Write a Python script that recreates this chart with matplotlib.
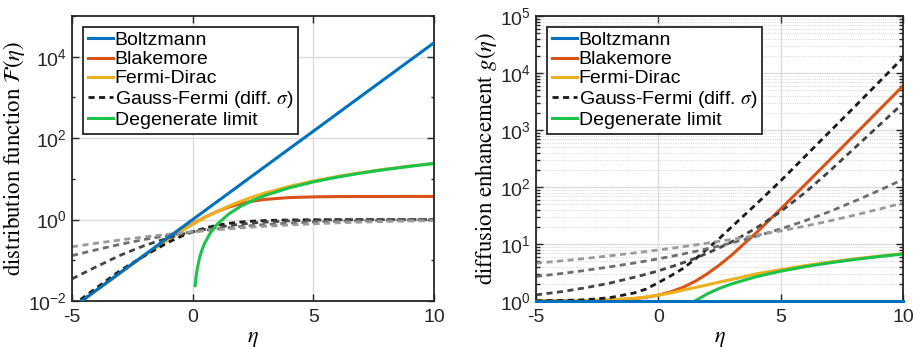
import numpy as np
import matplotlib
matplotlib.use('Agg')
import matplotlib.pyplot as plt
from matplotlib.ticker import LogLocator, NullFormatter

plt.rcParams['font.family'] = ['Liberation Sans', 'DejaVu Sans']
plt.rcParams['mathtext.fontset'] = 'stix'

# shared eta grid
eta = [-5, -4, -3, -2, -1, -0.5, 0, 0.5, 1, 1.5, 2, 2.5, 3, 4, 5, 6, 7, 8, 9, 10]

# ---- left panel: distribution function F(eta)
F_boltzmann = [0.0067, 0.0183, 0.0498, 0.135, 0.368, 0.607, 1.0, 1.65, 2.72, 4.48, 7.39, 12.2,
               20.1, 54.6, 148, 403, 1097, 2981, 8103, 22026]
F_blakemore = [0.0067, 0.0182, 0.0491, 0.131, 0.335, 0.521, 0.787, 1.14, 1.57, 2.03, 2.47, 2.84,
               3.13, 3.47, 3.61, 3.67, 3.69, 3.69, 3.70, 3.70]
F_fermi = [0.0067, 0.0182, 0.0489, 0.129, 0.328, 0.507, 0.765, 1.12, 1.58, 2.14, 2.82, 3.61,
           4.49, 6.51, 8.85, 11.45, 14.29, 17.35, 20.6, 24.05]
F_gauss = [
    [0.0076, 0.0207, 0.056, 0.129, 0.278, 0.383, 0.5, 0.617, 0.722, 0.807, 0.871, 0.916,
     0.946, 0.978, 0.991, 0.997, 0.999, 1.0, 1.0, 1.0],
    [0.035, 0.069, 0.133, 0.23, 0.356, 0.427, 0.5, 0.573, 0.644, 0.71, 0.77, 0.823,
     0.867, 0.93, 0.968, 0.987, 0.995, 0.998, 0.999, 1.0],
    [0.13, 0.181, 0.247, 0.324, 0.41, 0.455, 0.5, 0.545, 0.59, 0.634, 0.676, 0.716,
     0.753, 0.819, 0.873, 0.914, 0.944, 0.966, 0.98, 0.989],
    [0.215, 0.262, 0.316, 0.375, 0.437, 0.468, 0.5, 0.532, 0.563, 0.595, 0.625, 0.655,
     0.684, 0.738, 0.787, 0.831, 0.868, 0.899, 0.924, 0.945],
]
eta_deg = [0.1, 0.15, 0.2, 0.3, 0.4, 0.5, 0.75, 1, 1.5, 2, 2.5, 3, 4, 5, 6, 7, 8, 9, 10]
F_degenerate = [0.0238, 0.0437, 0.0673, 0.124, 0.190, 0.266, 0.489, 0.752, 1.38, 2.13, 2.97,
                3.91, 6.02, 8.41, 11.06, 13.93, 17.02, 20.31, 23.79]

# ---- right panel: diffusion enhancement g(eta)
g_boltzmann = [1.0] * len(eta)
g_blakemore = [1.002, 1.005, 1.013, 1.037, 1.099, 1.164, 1.27, 1.445, 1.73, 2.21, 3.0, 4.29,
               6.42, 15.7, 41.1, 110, 297, 806, 2189, 5948]
g_fermi = [1.002, 1.007, 1.018, 1.044, 1.112, 1.177, 1.265, 1.38, 1.55, 1.72, 1.92, 2.15,
           2.39, 2.99, 3.55, 4.18, 4.82, 5.47, 6.12, 6.78]
g_gauss = [
    [1.01, 1.02, 1.05, 1.14, 1.38, 1.62, 2.1, 2.75, 3.7, 5.4, 8.2, 12.6,
     20, 50, 128, 345, 930, 2500, 6800, 18500],
    [1.28, 1.45, 1.7, 2.05, 2.6, 2.95, 3.38, 3.95, 4.67, 5.6, 6.9, 8.6,
     10.9, 19, 37, 80, 190, 474, 1180, 2940],
    [2.7, 3.02, 3.43, 3.96, 4.63, 5.04, 5.5, 6.04, 6.67, 7.39, 8.25, 9.26,
     10.46, 13.65, 18.4, 25.6, 37.0, 55.9, 86, 136],
    [4.6, 5.04, 5.57, 6.2, 6.95, 7.38, 7.86, 8.38, 8.96, 9.61, 10.34, 11.15,
     12.04, 14.22, 17.0, 20.6, 25.4, 31.9, 40.7, 52.5],
]
eta_gdeg = [1.5, 2, 2.5, 3, 4, 5, 6, 7, 8, 9, 10]
g_degenerate = [1.0, 1.333, 1.667, 2.0, 2.667, 3.333, 4.0, 4.667, 5.333, 6.0, 6.667]

# matlab-like colours
c_blue = '#0072BD'
c_red = '#D95319'
c_yellow = '#EDB120'
c_green = '#1DC24A'
gauss_cols = ['#1a1a1a', '#444444', '#6e6e6e', '#9a9a9a']

lw = 2.2


def style_axes(ax, ylabel, ylim, yticks, minor_grid):
    ax.set_yscale('log')
    ax.set_xlim(-5, 10)
    ax.set_ylim(*ylim)
    ax.set_xticks([-5, 0, 5, 10])
    ax.set_xticklabels(['-5', '0', '5', '10'])
    ax.set_yticks(yticks)
    ax.tick_params(which='both', direction='in', top=True, right=True, labelsize=14,
                   width=1, colors='#262626')
    ax.tick_params(which='major', length=5)
    ax.tick_params(axis='x', pad=6)
    if minor_grid:
        ax.yaxis.set_minor_locator(LogLocator(base=10, subs=np.arange(2, 10), numticks=20))
        ax.tick_params(which='minor', length=3)
        ax.grid(True, which='minor', axis='y', color='#c8c8c8', lw=0.6, ls=':')
    else:
        ax.yaxis.set_minor_locator(LogLocator(base=10, subs=[], numticks=20))
    ax.yaxis.set_minor_formatter(NullFormatter())
    ax.grid(True, which='major', color='#dcdcdc', lw=1.0)
    ax.set_axisbelow(True)
    for s in ax.spines.values():
        s.set_color('#262626')
        s.set_linewidth(1.3)
    ax.set_xlabel(r'$\eta$', fontsize=16, labelpad=1)
    ax.set_ylabel(ylabel, fontsize=16.5, family='STIXGeneral', labelpad=1)


def draw(ax, boltz, blake, fermi, gauss, eta_d, deg, clip_boltz=True):
    ax.plot(eta, boltz, color=c_blue, lw=lw, label='Boltzmann', clip_on=clip_boltz, zorder=3)
    ax.plot(eta, blake, color=c_red, lw=lw, label='Blakemore')
    ax.plot(eta, fermi, color=c_yellow, lw=lw, label='Fermi-Dirac')
    for i, (vals, col) in enumerate(zip(gauss, gauss_cols)):
        ax.plot(eta, vals, color=col, lw=2.0, ls=(0, (2.2, 1.6)),
                label=r'Gauss-Fermi (diff. $\sigma$)' if i == 0 else None)
    ax.plot(eta_d, deg, color=c_green, lw=lw, label='Degenerate limit')
    leg = ax.legend(loc='upper left', fontsize=14, frameon=True, fancybox=False,
                    edgecolor='#262626', framealpha=1, borderpad=0.25, labelspacing=0.08,
                    handlelength=1.3, handletextpad=0.1, borderaxespad=0.55)
    leg.get_frame().set_linewidth(1.3)


fig = plt.figure(figsize=(9.2, 3.47), dpi=100)
ax1 = fig.add_axes([72 / 920, 46 / 347, 362 / 920, 285 / 347])
ax2 = fig.add_axes([536 / 920, 46 / 347, 367 / 920, 285 / 347])

draw(ax1, F_boltzmann, F_blakemore, F_fermi, F_gauss, eta_deg, F_degenerate)
style_axes(ax1, r'distribution function $\mathcal{F}(\eta)$', (1e-2, 1e5),
           [1e-2, 1e0, 1e2, 1e4], False)

draw(ax2, g_boltzmann, g_blakemore, g_fermi, g_gauss, eta_gdeg, g_degenerate, clip_boltz=False)
style_axes(ax2, r'diffusion enhancement $g(\eta)$', (1e0, 1e5),
           [1e0, 1e1, 1e2, 1e3, 1e4, 1e5], True)

fig.savefig('out.png', dpi=100)
